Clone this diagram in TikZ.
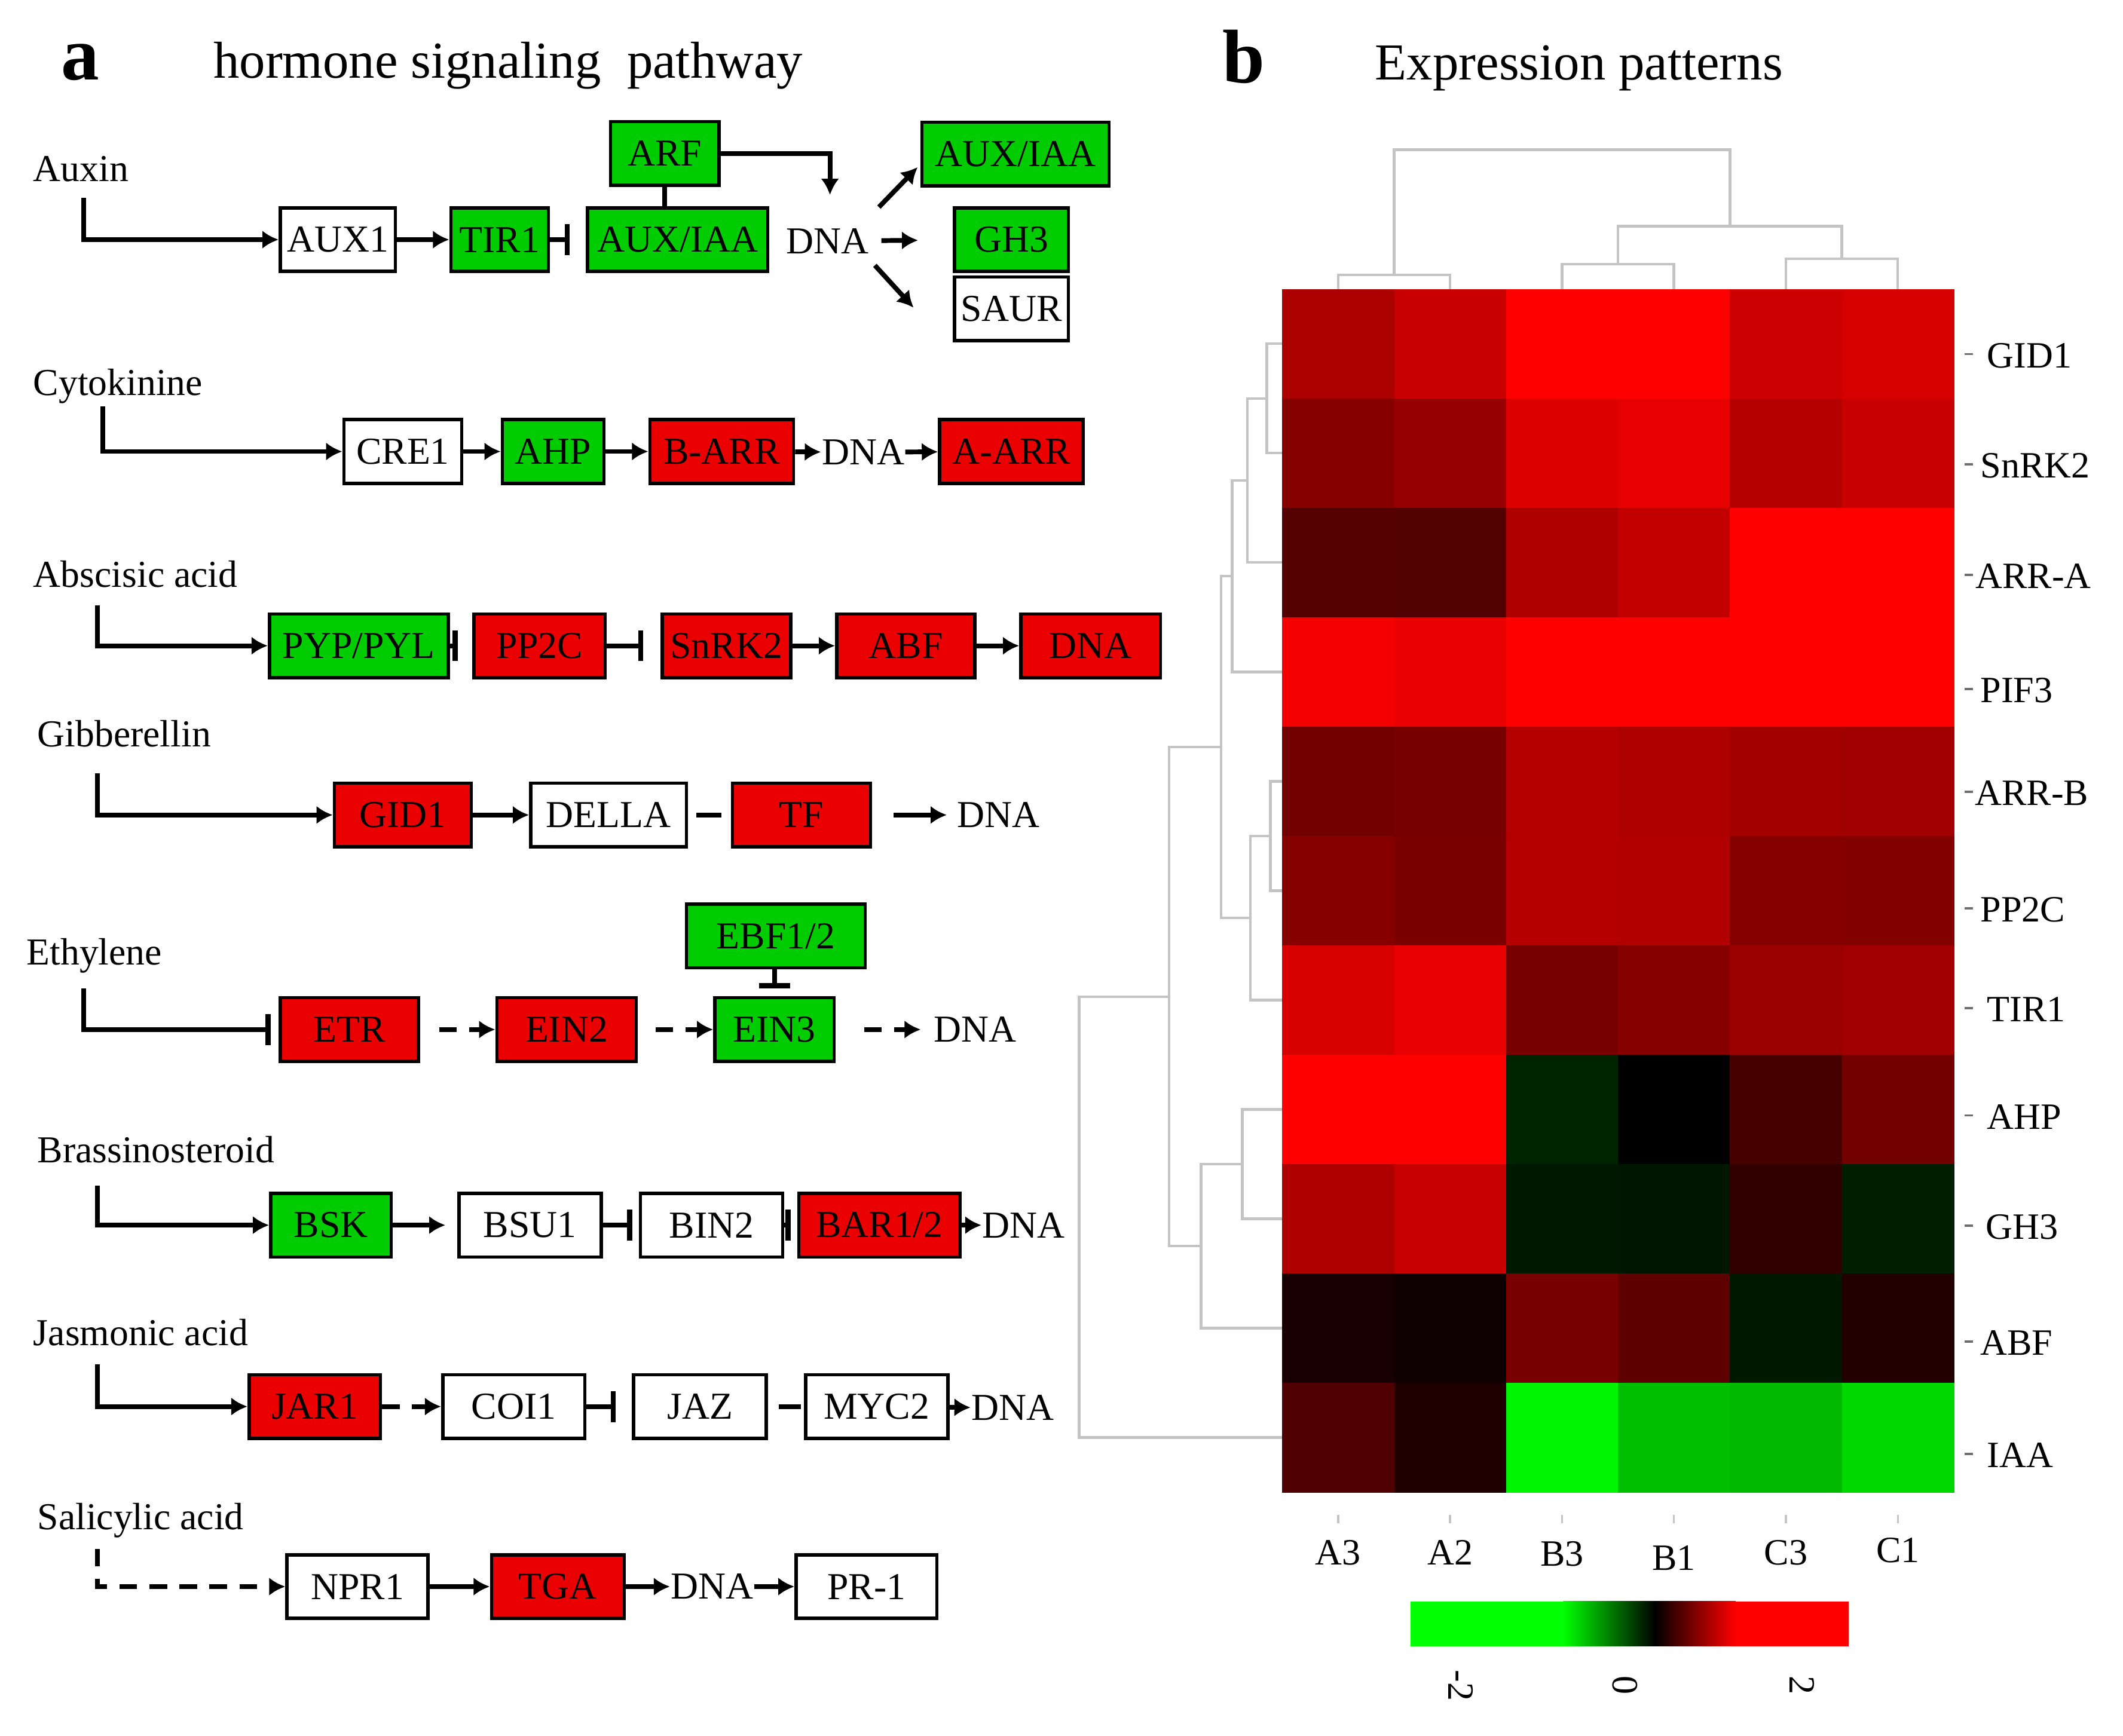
\documentclass[tikz,border=0pt]{standalone}
\usepackage{fontspec}
\setmainfont{Liberation Serif}
\usepackage{xcolor}
\usepackage{tikz}
\usetikzlibrary{arrows.meta}
\definecolor{hgreen}{RGB}{0,204,0}
\definecolor{hred}{RGB}{234,0,0}
\definecolor{dgray}{RGB}{196,196,196}
\definecolor{tgray}{RGB}{110,110,110}

\begin{document}
\begin{tikzpicture}[
    x=0.1mm, y=-0.1mm,
    every node/.style={font=\fontsize{8}{9.6}\selectfont},
    gen/.style={draw=black, line width=0.7pt, minimum height=4.7mm, inner sep=0pt, fill=white},
    geng/.style={gen, fill=hgreen},
    genr/.style={gen, fill=hred},
    word/.style={inner sep=0pt},
    hormone/.style={anchor=base west, inner sep=0pt},
    act/.style={line width=1pt, -{Latex[length=3.4pt,width=3.8pt]}},
    dsh/.style={act, dash pattern=on 3.7pt off 2.6pt},
    inh/.style={line width=1pt, -{Bar[width=6.5pt,line width=1.1pt]}},
    lnk/.style={line width=1pt},
    dendro/.style={draw=dgray, line width=0.55pt},
    tick/.style={draw=tgray, line width=0.45pt},
    hm/.style={font=\fontsize{7.8}{9}\selectfont, inner sep=0pt}
]
\fill[white] (0,0) rectangle (1568,1282);
\useasboundingbox (0,0) rectangle (1568,1282);

\node[anchor=base, inner sep=0pt, font=\fontsize{16}{16}\selectfont\bfseries] (la) at (59.4,58.9) {a};
\node[anchor=base west, inner sep=0pt, font=\fontsize{10.9}{13}\selectfont] (ta) at (157,57.4) {hormone signaling~~pathway};
\node[anchor=base, inner sep=0pt, font=\fontsize{16}{16}\selectfont\bfseries] (lb) at (918.5,61) {b};
\node[anchor=base west, inner sep=0pt, font=\fontsize{10.9}{13}\selectfont] (tb) at (1015,59) {Expression patterns};

% auxin
\node[hormone] (hauxin) at (24,134) {Auxin};
\node[gen, minimum width=8.5mm] (aux1) at (249.5,177) {AUX1};
\node[geng, minimum width=7.2mm] (tir1) at (369,177) {TIR1};
\node[geng, minimum width=13.3mm] (auxiaa1) at (500.5,177) {AUX/IAA};
\node[geng, minimum width=8mm] (arf) at (491,113.3) {ARF};
\node[word] (dna1) at (611,178) {DNA};
\node[geng, minimum width=13.8mm] (auxiaa2) at (750,113.7) {AUX/IAA};
\node[geng, minimum width=8.4mm] (gh3) at (747,177) {GH3};
\node[gen, minimum width=8.4mm] (saur) at (747,228) {SAUR};
\coordinate (s1) at (62,146);
\draw[act] (s1) |- (aux1);
\draw[act] (aux1) -- (tir1);
\draw[inh, shorten >=3.4pt] (tir1) -- (auxiaa1);
\draw[lnk] (arf.south) -- (arf.south |- auxiaa1.north);
\draw[act] (arf.east) -| ([shift={(2,-24)}]dna1.north);
\draw[act] ([shift={(7,-15)}]dna1.north east) -- ([shift={(-2,-15)}]auxiaa2.south west);
\draw[act, shorten <=2.5pt, shorten >=7.3pt] (dna1) -- (gh3);
\draw[act] ([shift={(4,8)}]dna1.south east) -- ([shift={(-29,24)}]saur.north west);

% cytokinine
\node[hormone] (hcyto) at (24,292) {Cytokinine};
\node[gen, minimum width=8.7mm] (cre1) at (297.5,333.5) {CRE1};
\node[geng, minimum width=7.5mm] (ahp) at (408.5,333.5) {AHP};
\node[genr, minimum width=10.6mm] (barr) at (533,333.5) {B-ARR};
\node[word] (dna2) at (637.5,334) {DNA};
\node[genr, minimum width=10.6mm] (aarr) at (747,333.5) {A-ARR};
\coordinate (s2) at (76,300);
\draw[act] (s2) |- (cre1);
\draw[act] (cre1) -- (ahp);
\draw[act] (ahp) -- (barr);
\draw[act] (barr) -- (dna2);
\draw[act] (dna2) -- (aarr);

% abscisic acid
\node[hormone] (haba) at (24,433.5) {Abscisic acid};
\node[geng, minimum width=13.2mm] (pyp) at (265,477) {PYP/PYL};
\node[genr, minimum width=9.7mm] (pp2c) at (398.5,477) {PP2C};
\node[genr, minimum width=9.5mm] (snrk2) at (536.5,477) {SnRK2};
\node[genr, minimum width=10.2mm] (abf) at (669,477) {ABF};
\node[genr, minimum width=10.3mm] (dna3) at (805.5,477) {DNA};
\coordinate (s3) at (72,447);
\draw[act] (s3) |- (pyp);
\draw[inh, shorten >=3pt] (pyp) -- (pp2c);
\draw[inh, shorten >=3.6pt] (pp2c) -- (snrk2);
\draw[act] (snrk2) -- (abf);
\draw[act] (abf) -- (dna3);

% gibberellin
\node[hormone] (hga) at (27,551.5) {Gibberellin};
\node[genr, minimum width=10.1mm] (gid1) at (297.5,602) {GID1};
\node[gen, minimum width=11.5mm] (della) at (449.5,602) {DELLA};
\node[genr, minimum width=10.2mm] (tf) at (592,602) {TF};
\node[word] (dna4) at (737.5,602) {DNA};
\coordinate (s4) at (72,571);
\draw[act] (s4) |- (gid1);
\draw[act] (gid1) -- (della);
\draw[lnk, shorten <=1.7pt, shorten >=2pt] (della) -- (tf);
\draw[act, shorten <=4.5pt, shorten >=2pt] (tf) -- (dna4);

% ethylene
\node[hormone] (heth) at (19,712.8) {Ethylene};
\node[genr, minimum width=10.2mm] (etr) at (258,760.5) {ETR};
\node[genr, minimum width=10.3mm] (ein2) at (418.5,760.5) {EIN2};
\node[geng, minimum width=8.8mm] (ein3) at (572,760.5) {EIN3};
\node[geng, minimum width=13.2mm] (ebf) at (573,691.4) {EBF1/2};
\node[word] (dna5) at (720,760.5) {DNA};
\coordinate (s5) at (62,730);
\draw[inh, shorten >=1.7pt] (s5) |- (etr);
\draw[dsh, shorten <=4pt] (etr) -- (ein2);
\draw[dsh, shorten <=3.7pt] (ein2) -- (ein3);
\draw[dsh, shorten <=6pt, shorten >=2.5pt] (ein3) -- (dna5);
\draw[inh, shorten >=1.6pt] (ebf.south -| ein3) -- (ein3.north);

% brassinosteroid
\node[hormone] (hbr) at (27,859) {Brassinosteroid};
\node[geng, minimum width=8.9mm] (bsk) at (244.5,905) {BSK};
\node[gen, minimum width=10.5mm] (bsu1) at (391.5,905) {BSU1};
\node[gen, minimum width=10.5mm] (bin2) at (525.5,905) {BIN2};
\node[genr, minimum width=11.9mm] (bar12) at (649.5,905) {BAR1/2};
\node[word] (dna6) at (756,905) {DNA};
\coordinate (s6) at (72,876);
\draw[act] (s6) |- (bsk);
\draw[act, shorten >=2.5pt] (bsk) -- (bsu1);
\draw[inh, shorten >=1.4pt] (bsu1) -- (bin2);
\draw[inh, shorten >=1.4pt] (bin2) -- (bar12);
\draw[act] (bar12) -- (dna6);

% jasmonic acid
\node[hormone] (hja) at (24,994) {Jasmonic acid};
\node[genr, minimum width=9.7mm] (jar1) at (232.5,1039) {JAR1};
\node[gen, minimum width=10.5mm] (coi1) at (379.5,1039) {COI1};
\node[gen, minimum width=9.8mm] (jaz) at (517,1039) {JAZ};
\node[gen, minimum width=10.5mm] (myc2) at (647.5,1039) {MYC2};
\node[word] (dna7) at (748,1040) {DNA};
\coordinate (s7) at (72,1008);
\draw[act] (s7) |- (jar1);
\draw[dsh] (jar1) -- (coi1);
\draw[inh, shorten >=3.4pt] (coi1) -- (jaz);
\draw[lnk, shorten <=2.3pt, shorten >=0.6pt] (jaz) -- (myc2);
\draw[act] (myc2) -- (dna7);

% salicylic acid
\node[hormone] (hsa) at (27,1130) {Salicylic acid};
\node[gen, minimum width=10.4mm] (npr1) at (264,1172) {NPR1};
\node[genr, minimum width=9.8mm] (tga) at (412,1172) {TGA};
\node[word] (dna8) at (526,1172) {DNA};
\node[gen, minimum width=10.4mm] (pr1) at (640,1172) {PR-1};
\coordinate (s8) at (72,1144);
\draw[dsh] (s8) |- (npr1);
\draw[act] (npr1) -- (tga);
\draw[act] (tga) -- (dna8);
\draw[act] (dna8) -- (pr1);

% heatmap
\foreach \rowvals [count=\ri from 0] in {{170,200,255,255,205,215},{135,150,220,230,180,200},%
    {85,82,175,195,255,255},{245,235,255,255,255,255},{115,120,180,175,165,160},%
    {135,122,180,178,135,130},{215,230,120,135,155,160},{255,255,-35,0,70,115},%
    {175,200,-25,-22,50,-30},{25,15,120,95,-25,35},{80,30,-245,-190,-185,-215}}{%
    \foreach \val [count=\ci from 0] in \rowvals {%
        \pgfmathtruncatemacro\redv{\val>0 ? \val : 0}%
        \pgfmathtruncatemacro\grnv{\val<0 ? abs(\val) : 0}%
        \definecolor{cell}{RGB}{\redv,\grnv,0}%
        \fill[cell] ({947+\ci*82.67},{213.5+\ri*80.8}) rectangle ++(83.2,81.3);
    }%
}

% column tree
\draw[dendro] (988.3,213.5) |- (1071,203) -- (1071,213.5);
\draw[dendro] (1153.7,213.5) |- (1236.3,195) -- (1236.3,213.5);
\draw[dendro] (1319,213.5) |- (1401.7,191) -- (1401.7,213.5);
\draw[dendro] (1195,195) |- (1360.3,167) -- (1360.3,191);
\draw[dendro] (1029.6,203) |- (1277.7,110.5) -- (1277.7,167);

% row tree
\draw[dendro] (947,253.9) -| (935.7,334.7) -- (947,334.7);
\draw[dendro] (935.7,294.3) -| (921.4,415.5) -- (947,415.5);
\draw[dendro] (921.4,354.9) -| (910,496.3) -- (947,496.3);
\draw[dendro] (947,577.1) -| (938.2,657.9) -- (947,657.9);
\draw[dendro] (938.2,617.5) -| (923.4,738.7) -- (947,738.7);
\draw[dendro] (910,425.6) -| (901.8,678.1) -- (923.4,678.1);
\draw[dendro] (947,819.5) -| (917.5,900.3) -- (947,900.3);
\draw[dendro] (917.5,859.9) -| (887,981.1) -- (947,981.1);
\draw[dendro] (901.8,551.9) -| (863.4,920.5) -- (887,920.5);
\draw[dendro] (863.4,736.2) -| (797,1061.9) -- (947,1061.9);

% row labels
\begin{scope}
\clip (1440,200) rectangle (1544,1110);
\foreach \name/\px/\py in {GID1/1467/262.6, SnRK2/1462/344, ARR-A/1458.4/425.6,
    PIF3/1462/510, ARR-B/1458/586, PP2C/1462/672, TIR1/1467/745.6,
    AHP/1467/825, GH3/1466/906.5, ABF/1462/992, IAA/1467/1075}{
    \draw[tick] (1451,\py-1) -- (1457,\py-1);
    \node[hm, anchor=west] (r\name) at (\px,\py) {\name};
}
\end{scope}

% column labels
\foreach \name/\px/\py in {A3/988.3/1147, A2/1071/1147, B3/1153.7/1148,
    B1/1236.3/1151, C3/1319/1147, C1/1401.7/1145}{
    \draw[tick, draw=dgray] (\px,1119) -- (\px,1125);
    \node[hm] (c\name) at (\px,\py) {\name};
}

% colour key
\fill[green] (1042,1183) rectangle (1155,1216);
\shade[left color=green, right color=black] (1154.5,1183) rectangle (1222.5,1216);
\shade[left color=black, right color=red] (1222,1183) rectangle (1282,1216);
\fill[red] (1281.5,1183) rectangle (1365.5,1216);
\node[hm, rotate=-90] (kmin) at (1078.7,1245) {-2};
\node[hm, rotate=-90] (kmid) at (1200,1245) {0};
\node[hm, rotate=-90] (kmax) at (1331,1245) {2};
\end{tikzpicture}
\end{document}
